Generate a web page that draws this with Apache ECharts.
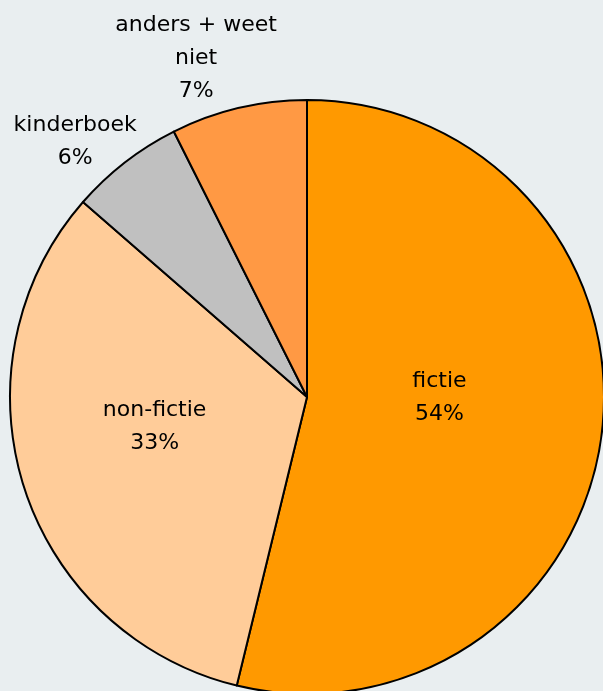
<!DOCTYPE html>
<html>
<head>
<meta charset="utf-8">
<script src="https://cdn.jsdelivr.net/npm/echarts@6/dist/echarts.min.js"></script>
<style>
  html, body { margin: 0; padding: 0; background: #e9eef0; }
  #chart { width: 603px; height: 691px; }
</style>
</head>
<body>
<div id="chart"></div>
<script>
// categories and shares (%)
const categories = ['fictie', 'non-fictie', 'kinderboek', 'anders + weet niet'];
const values = [53.8, 32.6, 6.2, 7.4];
const colors = ['#ff9900', '#ffcc99', '#c0c0c0', '#ff9944'];
// label nudges relative to the default inside position
const labelOffsets = [[-18, -17], [-8, -16], [-139, -136], [-76, -191]];

const chart = echarts.init(document.getElementById('chart'));

const option = {
  backgroundColor: '#e9eef0',
  animation: false,
  series: [
    {
      type: 'pie',
      center: [307, 397],
      radius: 297,
      startAngle: 90,
      clockwise: true,
      avoidLabelOverlap: false,
      itemStyle: {
        borderColor: '#000',
        borderWidth: 2,
      },
      label: {
        show: true,
        position: 'inside',
        color: '#000',
        fontFamily: 'DejaVu Sans',
        fontSize: 22,
        lineHeight: 33,
        align: 'center',
        formatter: (p) => {
          const name = p.name === 'anders + weet niet' ? 'anders + weet\nniet' : p.name;
          return name + '\n' + Math.round(p.value) + '%';
        },
      },
      labelLine: { show: false },
      emphasis: { disabled: true },
      data: categories.map((name, i) => ({
        name: name,
        value: values[i],
        itemStyle: { color: colors[i] },
        label: { offset: labelOffsets[i] },
      })),
    },
  ],
};

chart.setOption(option);
</script>
</body>
</html>
